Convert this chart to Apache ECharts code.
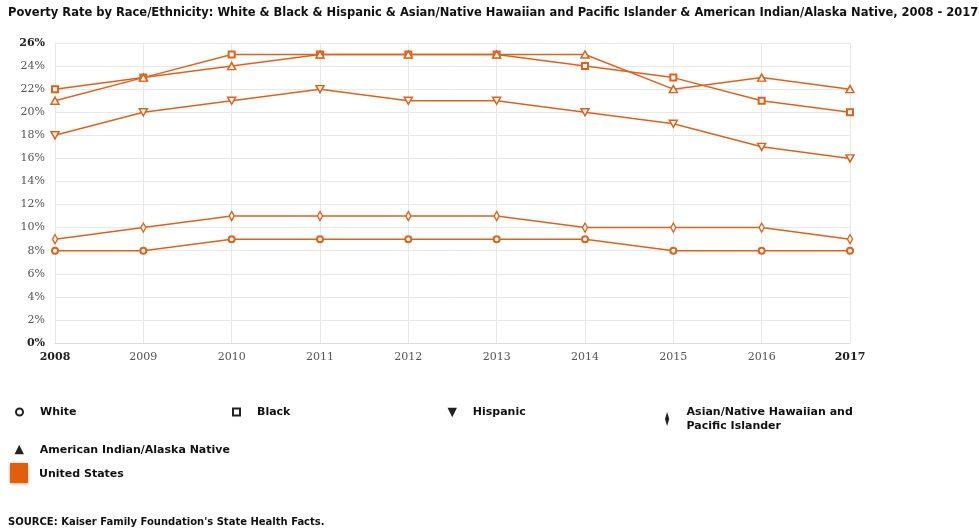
<!DOCTYPE html>
<html><head><meta charset="utf-8">
<script src="https://cdn.jsdelivr.net/npm/echarts@6/dist/echarts.min.js"></script>
<style>html,body{margin:0;padding:0;background:#fff}#c{width:979px;height:531px}</style>
</head><body><div id="c"></div>
<script>
const years = ['2008','2009','2010','2011','2012','2013','2014','2015','2016','2017'];
const white = [8,8,9,9,9,9,9,8,8,8];
const black = [22,23,25,25,25,25,24,23,21,20];
const hispanic = [18,20,21,22,21,21,20,19,17,16];
const asian = [9,10,11,11,11,11,10,10,10,9];
const aian = [21,23,24,25,25,25,25,22,23,22];
const seriesNames = ['White','Black','Hispanic','Asian/Native Hawaiian and\nPacific Islander','American Indian/Alaska Native'];

const C = '#e0621a';
const diamond = 'path://M5,0 L8,10 L5,20 L2,10 Z';
const symbols = ['emptyCircle','emptyRect','path://M0,0 L10,0 L5,10 Z',diamond,'path://M5,0 L10,10 L0,10 Z'];
const sizes = [6,6,[8,7],[5,9],[8,7]];
const dataArr = [white,black,hispanic,asian,aian];
const font = 'DejaVu Sans';
const chart = echarts.init(document.getElementById('c'));
const legendPos = [[15,405],[232,405],[448,405],[665,405],[15,443]];
const legendIcons = ['emptyCircle','emptyRect','path://M0,0 L10,0 L5,10 Z',diamond,'path://M5,0 L10,10 L0,10 Z'];
chart.setOption({
  animation:false,
  title:{text:'Poverty Rate by Race/Ethnicity: White & Black & Hispanic & Asian/Native Hawaiian and Pacific Islander & American Indian/Alaska Native, 2008 - 2017',
    left:3,top:2,textStyle:{fontFamily:font,fontSize:11.5,fontWeight:'bold',color:'#111'}},
  grid:{left:55,right:129,top:43,height:300},
  legend: seriesNames.map((n,i)=>({data:[{name:n,icon:legendIcons[i]}],left:legendPos[i][0],top:legendPos[i][1],padding:0,
    itemWidth:i===3?5:7,itemHeight:i===3?9:7,itemGap:6,selectedMode:false,
    itemStyle:{color:'#222',borderColor:'#222',borderWidth:1.5},
    textStyle:{fontFamily:font,fontSize:11,fontWeight:'bold',color:'#111',lineHeight:14,padding:[0,0,0,12]}})),
  xAxis:{type:'category',data:years,boundaryGap:false,
    axisLine:{show:true,lineStyle:{color:'#ddd'}},axisTick:{show:false},
    splitLine:{show:true,lineStyle:{color:'#e8e8e8'}},
    axisLabel:{fontFamily:'DejaVu Serif',fontSize:11,color:'#555',margin:9,
      formatter:(v,i)=> (i===0||i===years.length-1)?'{b|'+v+'}':v, rich:{b:{fontWeight:'bold',color:'#222',fontFamily:'DejaVu Serif',fontSize:11}}}},
  yAxis:{type:'value',min:0,max:26,interval:2,
    axisLine:{show:false},axisTick:{show:false},
    splitLine:{lineStyle:{color:'#e8e8e8'}},
    axisLabel:{fontFamily:'DejaVu Serif',fontSize:11,color:'#555',margin:10,
      formatter:v=> (v===0||v===26)?'{b|'+v+'%}':v+'%', rich:{b:{fontWeight:'bold',color:'#222',fontFamily:'DejaVu Serif',fontSize:11}}}},
  series: seriesNames.map((n,i)=>({name:n,type:'line',data:dataArr[i],symbol:symbols[i],symbolSize:sizes[i],
    showAllSymbol:true,lineStyle:{color:C,width:1.5},itemStyle:{color:i<2?C:'#fff',borderColor:C,borderWidth:1.5}})),
  graphic:[
    {type:'rect',left:10,top:463,shape:{width:18,height:20},style:{fill:'#e05e0c',shadowBlur:3,shadowColor:'rgba(0,0,0,0.3)',shadowOffsetY:1}},
    {type:'text',left:39,top:469,style:{text:'United States',font:'bold 11px "DejaVu Sans"',fill:'#111'}},
    {type:'text',left:8,top:517,style:{text:"SOURCE: Kaiser Family Foundation's State Health Facts.",font:'bold 10px "DejaVu Sans"',fill:'#111'}}
  ]
});
</script></body></html>
